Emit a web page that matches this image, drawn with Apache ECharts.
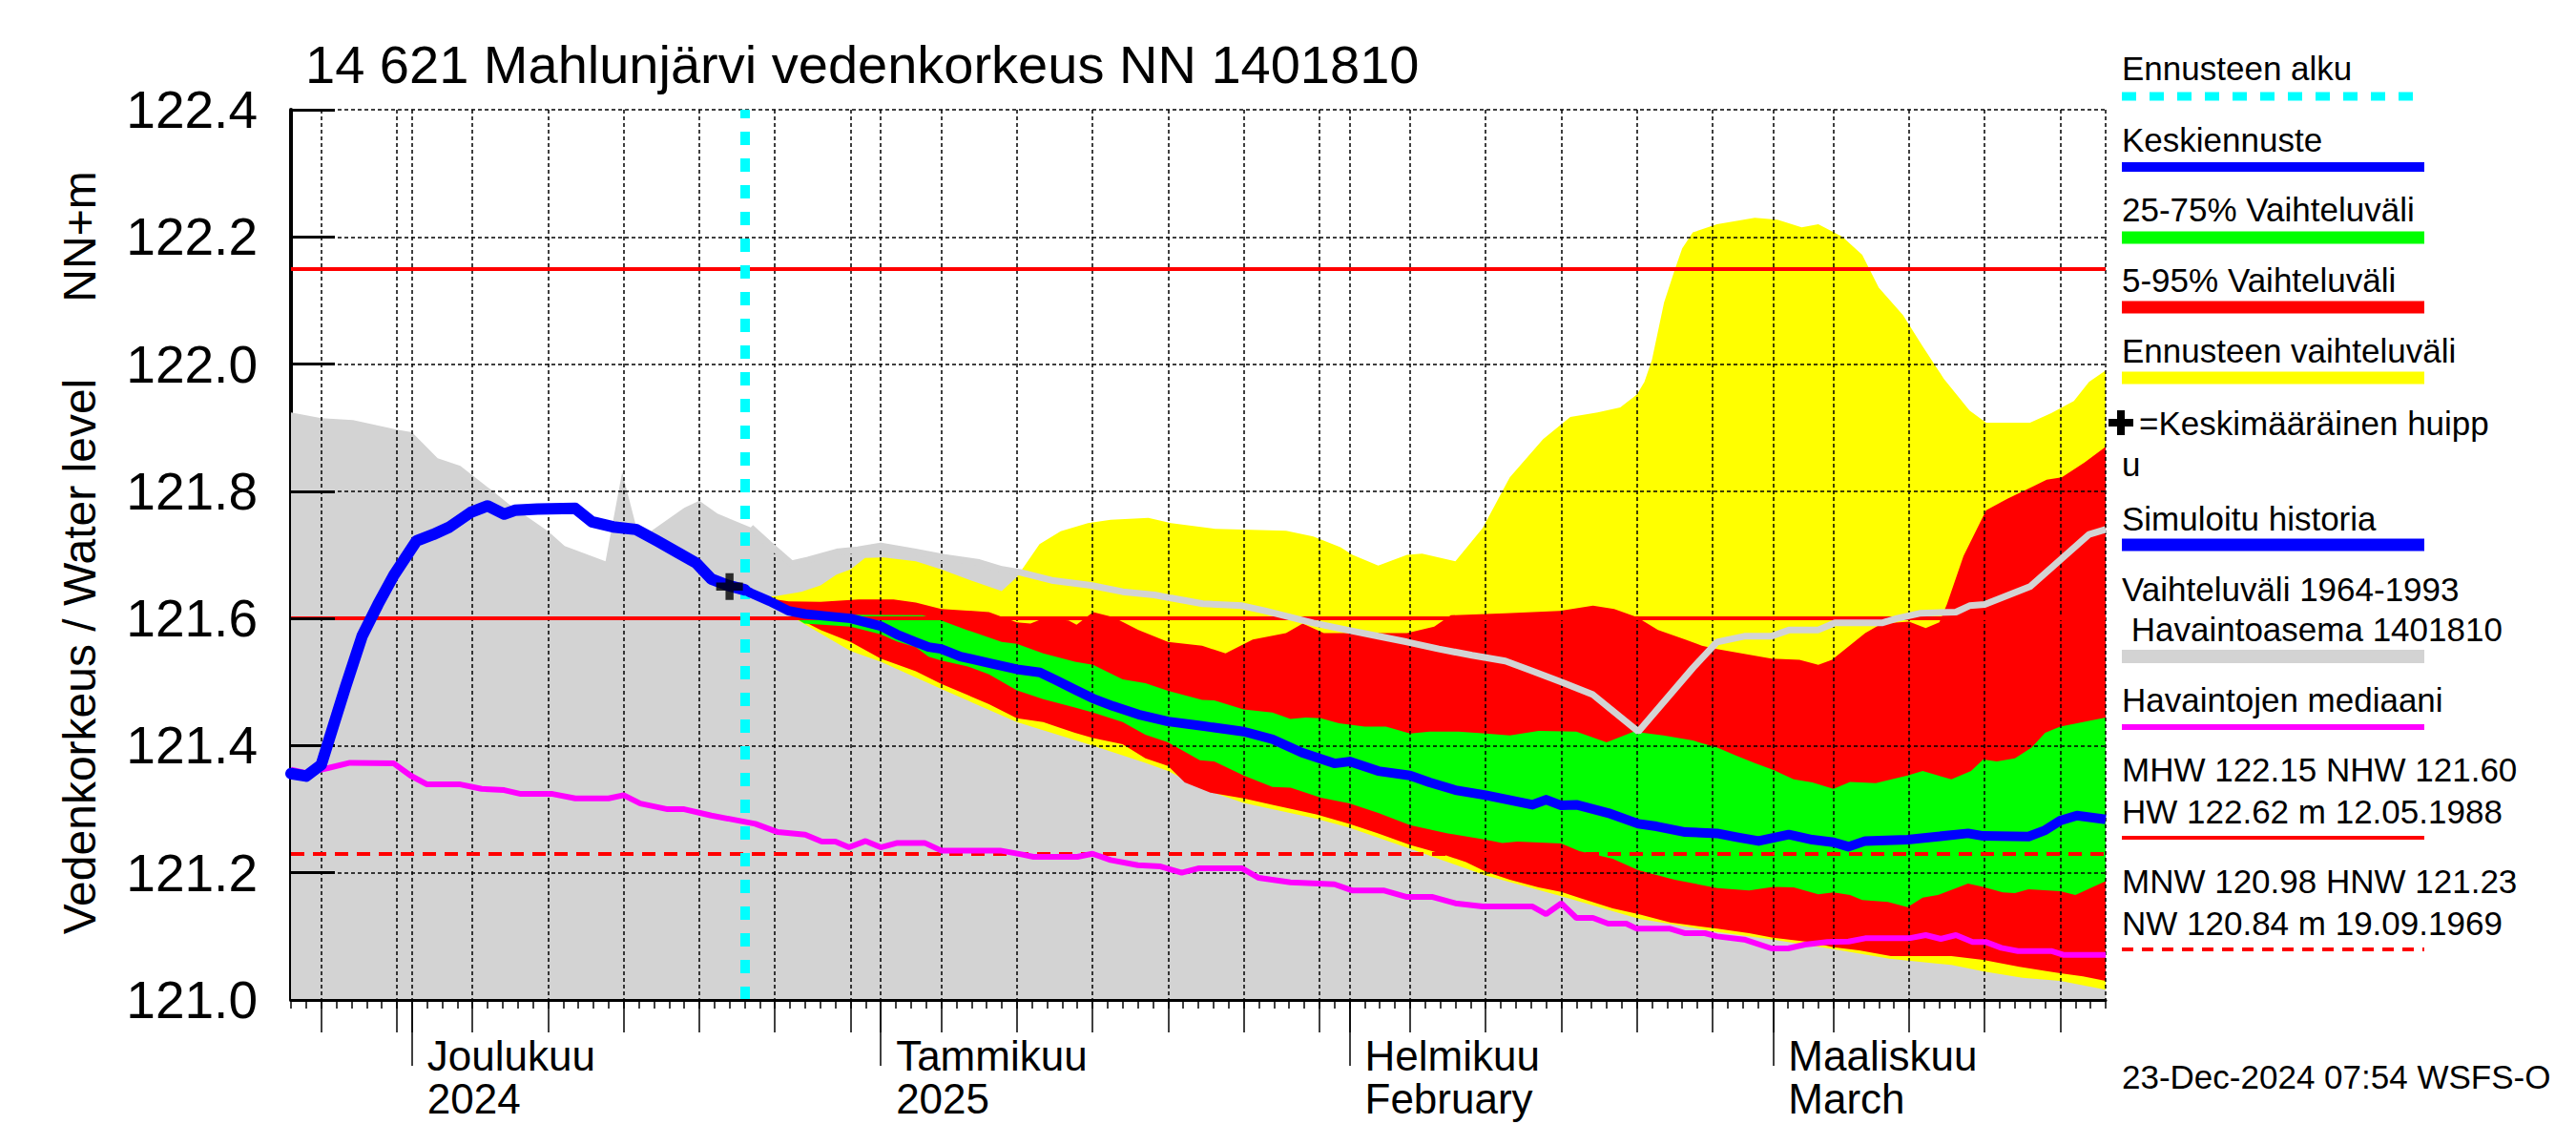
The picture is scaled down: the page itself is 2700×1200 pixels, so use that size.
<!DOCTYPE html>
<html><head><meta charset="utf-8">
<script src="https://cdn.jsdelivr.net/npm/echarts@6/dist/echarts.min.js"></script>
<style>html,body{margin:0;padding:0;background:#fff}#c{width:2700px;height:1200px}</style>
</head><body><div id="c"></div>
<script>
const FONT = '"Liberation Sans", Arial, Helvetica, sans-serif';

// ---- axis / category data ----
const startDate = Date.UTC(2024, 10, 23);   // 23 Nov 2024 = day 0
const nDays = 121;                          // to 23 Mar 2025
const dayCategories = [];
for (let i = 0; i < nDays; i++) dayCategories.push(new Date(startDate + i * 86400000).toISOString().slice(0, 10));
const monthLabels = {
  '2024-12-01': 'Joulukuu\n2024',
  '2025-01-01': 'Tammikuu\n2025',
  '2025-02-01': 'Helmikuu\nFebruary',
  '2025-03-01': 'Maaliskuu\nMarch'
};
const fiveDayMarks = [5, 10, 15, 20, 25, 30];
const yMin = 121.0, yMax = 122.4, yStep = 0.2;

// ---- reference levels ----
const MHW = 122.15, NHW = 121.60, HNW = 121.23;
const forecastStartDay = 30;        // 23 Dec 2024
const meanPeak = [[29, 121.65]];

// ---- series values: [day from 23 Nov 2024, water level] ----
const histMax = [[0,121.924],[2,121.915],[4.1,121.912],[7,121.897],[8,121.893],[9.7,121.852],[11.2,121.84],[13.35,121.80],[14.4,121.78],[17,121.737],[18.1,121.714],[20.8,121.69],[21.9,121.83],[22.8,121.747],[23.8,121.737],[26,121.774],[27,121.785],[28.2,121.765],[30.4,121.743],[31.6,121.717],[33.1,121.686],[34.2,121.692],[36.2,121.705],[37.5,121.708],[39,121.714],[41.2,121.705],[43.2,121.696],[45.5,121.688],[47,121.677],[48.3,121.672],[50.3,121.66],[52.9,121.652],[55,121.642],[57.1,121.637],[58.2,121.632],[60.3,121.623],[62.9,121.62],[64.4,121.612],[66.1,121.602],[67.6,121.593],[69.8,121.582],[71.9,121.572],[73.8,121.563],[75.9,121.552],[78.1,121.542],[80.3,121.533],[82,121.518],[84,121.5],[86.1,121.48],[89.1,121.422],[92.7,121.522],[94.3,121.563],[96.1,121.572],[97.9,121.572],[99.1,121.582],[101,121.582],[102.1,121.593],[105.2,121.593],[106.2,121.6],[107.7,121.608],[110.1,121.61],[111,121.62],[112,121.622],[115,121.65],[118.9,121.732],[120,121.74]];

const simHistory = [[0,121.356],[1,121.352],[2,121.37],[3.6,121.492],[4.7,121.572],[5.75,121.622],[6.8,121.668],[8.3,121.722],[9.4,121.732],[10.5,121.744],[11.9,121.767],[13,121.777],[14.1,121.764],[14.8,121.77],[16.3,121.772],[18.8,121.773],[19.9,121.752],[21.3,121.744],[22.8,121.74],[24.2,121.722],[25.7,121.702],[26.8,121.687],[27.8,121.662],[28.9,121.652],[30,121.645]];

const meanForecast = [[30,121.645],[30.4,121.64],[31.65,121.627],[32.9,121.612],[34,121.607],[35.65,121.603],[37,121.6],[39,121.588],[40.06,121.575],[41.3,121.563],[42.16,121.555],[43,121.552],[44.27,121.54],[46.16,121.53],[48,121.52],[49.53,121.515],[50.58,121.503],[51.84,121.488],[53.04,121.474],[54.37,121.462],[56.04,121.449],[58,121.438],[60.25,121.431],[63,121.422],[64.9,121.41],[66.85,121.389],[69,121.372],[70,121.375],[71.9,121.36],[74,121.353],[75.3,121.342],[77,121.33],[79,121.322],[82.1,121.307],[83,121.315],[84,121.306],[85,121.307],[87.1,121.294],[89.1,121.277],[90.3,121.273],[92.2,121.264],[94.3,121.262],[95.6,121.256],[97.05,121.25],[99.05,121.26],[100.6,121.252],[102,121.248],[103,121.241],[104.1,121.25],[106.9,121.252],[108.9,121.257],[110.9,121.262],[111.9,121.258],[114.9,121.257],[116,121.267],[117,121.282],[118.1,121.29],[120,121.284]];

const median = [[0,121.362],[1,121.357],[2.5,121.365],[3.9,121.373],[6.8,121.372],[7.9,121.353],[9,121.339],[11.2,121.339],[12.6,121.332],[14.1,121.33],[15.2,121.324],[17.3,121.324],[18.8,121.317],[21,121.317],[22,121.322],[23.1,121.309],[24.9,121.3],[26,121.3],[27.8,121.29],[30.7,121.277],[32.2,121.264],[34,121.26],[35.1,121.249],[36,121.249],[36.9,121.24],[38,121.25],[39,121.24],[40.1,121.247],[41.9,121.247],[43,121.235],[46.9,121.235],[48.3,121.229],[49.1,121.225],[52,121.225],[53,121.23],[54.2,121.22],[56,121.212],[57.5,121.21],[58.9,121.2],[60,121.207],[62.9,121.207],[64,121.192],[66.1,121.185],[69,121.182],[70.2,121.172],[72.3,121.172],[73.8,121.162],[75.5,121.162],[77,121.152],[78.8,121.147],[82.1,121.147],[83,121.135],[84,121.152],[85,121.129],[86.1,121.129],[87.1,121.12],[88.3,121.12],[89,121.112],[91.2,121.112],[92.2,121.105],[93.5,121.105],[94.3,121.1],[96.1,121.095],[97.9,121.081],[99,121.081],[100.1,121.087],[101.6,121.091],[103,121.092],[104.1,121.097],[107,121.097],[108.1,121.102],[109.1,121.096],[110.1,121.102],[111.2,121.091],[112.1,121.091],[113.1,121.082],[114.2,121.077],[116.4,121.077],[117.2,121.071],[120,121.071]];

// forecast ranges
const ensMax = [[31,121.634],[32.07,121.635],[33.75,121.642],[35.02,121.652],[36.07,121.669],[37,121.677],[37.96,121.695],[39.2,121.696],[41.32,121.69],[43,121.677],[44.69,121.662],[47,121.643],[48,121.665],[49.5,121.717],[50.9,121.737],[52.7,121.75],[54.2,121.755],[56.7,121.758],[58.2,121.75],[61.1,121.741],[65.8,121.738],[67.6,121.729],[69.4,121.712],[70.2,121.70],[71.9,121.683],[73.8,121.70],[74.8,121.702],[77,121.69],[78.8,121.742],[80.6,121.822],[82.8,121.882],[84.6,121.917],[86.4,121.924],[87.9,121.932],[89,121.952],[89.5,121.972],[90,122.007],[90.8,122.097],[91.5,122.148],[92,122.182],[92.7,122.207],[94.3,122.22],[96.8,122.23],[98.3,122.227],[99.9,122.215],[101,122.22],[102.6,122.2],[103.9,122.172],[105,122.12],[106.6,122.077],[107.9,122.028],[109.3,121.977],[111,121.927],[112.1,121.908],[115,121.908],[116.4,121.923],[117.9,121.942],[118.9,121.972],[120,121.99]];
const ensMin = [[31,121.634],[33.54,121.597],[37,121.549],[39,121.532],[43,121.489],[48,121.437],[53.04,121.40],[56.5,121.373],[58,121.36],[60.25,121.332],[63,121.31],[67.8,121.285],[70,121.271],[74,121.238],[79,121.196],[84,121.163],[89.1,121.128],[94.32,121.107],[98,121.095],[102,121.08],[105.7,121.065],[109.8,121.055],[111.9,121.045],[114.5,121.035],[117,121.03],[120,121.016]];
const p95 = [[31,121.634],[32.07,121.63],[32.91,121.627],[35.02,121.626],[37.54,121.63],[39.85,121.63],[41.32,121.625],[43,121.615],[46.16,121.61],[48,121.594],[48.9,121.592],[49.74,121.6],[51.42,121.597],[51.95,121.59],[53.04,121.61],[54.37,121.602],[56.04,121.582],[58,121.563],[60.25,121.557],[61.8,121.545],[63.6,121.567],[65.8,121.577],[66.9,121.592],[68.3,121.577],[73.8,121.577],[75.6,121.587],[76.7,121.605],[80.3,121.608],[83.9,121.612],[86.1,121.62],[87.5,121.615],[89,121.602],[90.4,121.582],[92.2,121.567],[93.3,121.557],[94.3,121.552],[97.9,121.537],[99.75,121.535],[101,121.527],[101.9,121.535],[104.1,121.577],[105.2,121.592],[107,121.595],[108.1,121.585],[109,121.594],[109.5,121.622],[110.6,121.698],[112.1,121.77],[113.5,121.788],[116.1,121.818],[117.1,121.822],[118.6,121.845],[120,121.87]];
const p5 = [[31,121.634],[33.54,121.60],[35.02,121.582],[37,121.563],[39,121.537],[41.32,121.517],[43,121.497],[44.69,121.48],[46.16,121.465],[48,121.443],[49.74,121.437],[51.84,121.42],[53.04,121.412],[55,121.402],[56.5,121.38],[58,121.368],[59.1,121.342],[60.8,121.326],[63,121.317],[64.9,121.307],[67.8,121.292],[70,121.277],[71.9,121.262],[74,121.244],[75.8,121.232],[77.7,121.217],[79,121.202],[80.6,121.189],[82.5,121.177],[84,121.17],[85.4,121.159],[87.4,121.144],[89.1,121.135],[91.2,121.122],[94.32,121.112],[96.42,121.105],[98,121.098],[100.4,121.091],[102,121.083],[103.7,121.078],[105.8,121.069],[109.8,121.069],[111.9,121.063],[114.3,121.052],[117,121.042],[118.5,121.037],[120,121.03]];
const p75 = [[31,121.634],[33.96,121.61],[37,121.606],[41.75,121.605],[43,121.597],[44.69,121.582],[47,121.563],[48,121.56],[49.74,121.545],[51.84,121.532],[53.04,121.527],[55,121.504],[56.5,121.498],[58,121.486],[60.25,121.472],[61.05,121.471],[63,121.457],[64.9,121.452],[66.1,121.442],[67.1,121.444],[68.1,121.443],[69.3,121.435],[71,121.43],[72.4,121.43],[74,121.419],[75.3,121.422],[77.2,121.422],[79,121.419],[80.6,121.416],[82.5,121.423],[85,121.422],[87,121.405],[88.8,121.422],[90.75,121.416],[92.7,121.408],[94.32,121.397],[95.58,121.384],[96.84,121.372],[98,121.362],[99.37,121.347],[100.6,121.342],[102,121.332],[103.1,121.343],[104.8,121.341],[106.9,121.353],[107.9,121.36],[109.8,121.347],[111.1,121.36],[111.9,121.378],[112.8,121.375],[114,121.38],[115.1,121.397],[116,121.42],[117,121.43],[118.5,121.437],[120,121.444]];
const p25 = [[31,121.634],[33.96,121.592],[37,121.587],[39,121.575],[40.06,121.564],[41.32,121.555],[42.16,121.54],[43,121.534],[44.69,121.525],[46.16,121.512],[48,121.487],[49.74,121.473],[51.84,121.46],[53.04,121.452],[55,121.437],[56.5,121.417],[58,121.405],[60.1,121.377],[61.05,121.375],[63,121.353],[64.9,121.335],[66.1,121.334],[68.1,121.318],[70,121.309],[71.9,121.294],[74,121.275],[76.5,121.262],[79,121.252],[80.1,121.247],[81.1,121.249],[84,121.246],[85.2,121.234],[87.4,121.222],[89.1,121.204],[91.5,121.189],[94.32,121.176],[96.42,121.172],[98,121.178],[99.37,121.177],[101,121.166],[102,121.169],[103.1,121.165],[103.9,121.157],[105.6,121.154],[106.9,121.146],[107.9,121.161],[108.9,121.165],[110.9,121.183],[111.9,121.178],[113.2,121.169],[114,121.168],[114.9,121.174],[117,121.171],[118,121.165],[120,121.187]];

// ---- helpers ----
function isMonth(v) { return v.slice(8) === '01'; }
function isFive(v) { return fiveDayMarks.indexOf(+v.slice(8)) >= 0; }
function band(name, upper, lower, color, z) {
  return {
    name: name, type: 'custom', xAxisIndex: 0, yAxisIndex: 0, z: z, silent: true,
    data: [[60, 121.5]],
    renderItem: function (params, api) {
      const pts = upper.map(p => api.coord(p)).concat(lower.slice().reverse().map(p => api.coord(p)));
      return { type: 'polygon', shape: { points: pts }, style: { fill: color } };
    }
  };
}

const chart = echarts.init(document.getElementById('c'), null, { renderer: 'svg' });

const LX1 = 2224, LX2 = 2541;
function ltext(t, y, x) {
  return { type: 'text', x: x == null ? LX1 : x, y: y, z: 100,
    style: { text: t, font: '35px ' + FONT, fill: '#000', align: 'left', verticalAlign: 'middle', textAlign: 'left', textVerticalAlign: 'middle' } };
}
function lline(y, color, w, dash) {
  return { type: 'line', z: 100, shape: { x1: LX1, y1: y, x2: LX2, y2: y },
    style: { stroke: color, lineWidth: w, lineDash: dash || null } };
}

const option = {
  animation: false,
  backgroundColor: '#fff',
  grid: { left: 305, top: 115, width: 1902, height: 933, containLabel: false },
  xAxis: [
    { type: 'value', min: 0, max: nDays - 1, show: false, position: 'bottom' },
    { type: 'category', data: dayCategories, boundaryGap: false, position: 'bottom', z: 5,
      axisLine: { show: true, onZero: false, lineStyle: { color: '#000', width: 3 } },
      axisTick: { show: true, interval: 0, length: 9, lineStyle: { color: '#000', width: 1.5 } },
      axisLabel: { show: false }, splitLine: { show: false } },
    { type: 'category', data: dayCategories, boundaryGap: false, position: 'bottom', z: 5,
      axisLine: { show: false, onZero: false },
      axisTick: { show: true, interval: (i, v) => isFive(v) || isMonth(v), length: 34, lineStyle: { color: '#000', width: 1.5 } },
      axisLabel: { show: false },
      splitLine: { show: true, interval: (i, v) => isFive(v) || isMonth(v) || i === nDays - 1,
        lineStyle: { color: '#000', width: 1.5, type: [4, 3] } } },
    { type: 'category', data: dayCategories, boundaryGap: false, position: 'bottom', z: 5,
      axisLine: { show: false, onZero: false },
      axisTick: { show: true, interval: (i, v) => isMonth(v), length: 69, lineStyle: { color: '#000', width: 1.5 } },
      axisLabel: { show: true, interval: (i, v) => isMonth(v), formatter: v => monthLabels[v] || '',
        align: 'left', verticalAlign: 'top', padding: [0, 0, 0, 16], margin: 36,
        fontSize: 44, lineHeight: 45, fontFamily: FONT, color: '#000' },
      splitLine: { show: false } }
  ],
  yAxis: [
    { type: 'value', min: yMin, max: yMax, interval: yStep, position: 'left', z: 0,
      axisLine: { show: true, onZero: false, lineStyle: { color: '#000', width: 4 } },
      axisTick: { show: false }, splitLine: { show: false },
      axisLabel: { show: true, margin: 35, fontSize: 55, fontFamily: FONT, color: '#000',
        formatter: v => v.toFixed(1), padding: [0, 0, 18, 0] } },
    { type: 'value', min: yMin, max: yMax, interval: yStep, position: 'left', z: 5,
      axisLine: { show: false, onZero: false },
      axisTick: { show: true, inside: true, length: 46, lineStyle: { color: '#000', width: 3 } },
      axisLabel: { show: false },
      splitLine: { show: true, lineStyle: { color: '#000', width: 1.5, type: [4, 3] } } }
  ],
  series: [
    { name: 'Vaihteluväli 1964-1993', type: 'line', xAxisIndex: 0, yAxisIndex: 0, data: histMax,
      symbol: 'none', showSymbol: false, silent: true, z: 1,
      lineStyle: { width: 0, color: '#d3d3d3' }, areaStyle: { color: '#d3d3d3', opacity: 1, origin: 'start' } },
    band('Ennusteen vaihteluväli', ensMax, ensMin, '#ffff00', 2),
    band('5-95% Vaihteluväli', p95, p5, '#ff0000', 3),
    band('25-75% Vaihteluväli', p75, p25, '#00ff00', 4),
    { name: 'levels', type: 'line', xAxisIndex: 0, yAxisIndex: 0, data: [], z: 6, silent: true,
      markLine: { silent: true, symbol: ['none', 'none'], label: { show: false }, animation: false,
        data: [
          { yAxis: MHW, lineStyle: { color: '#ff0000', width: 4, type: 'solid' } },
          { yAxis: NHW, lineStyle: { color: '#ff0000', width: 4, type: 'solid' } },
          { yAxis: HNW, lineStyle: { color: '#ff0000', width: 4, type: [14, 9] } }
        ] } },
    { name: 'histMaxLine', type: 'line', xAxisIndex: 0, yAxisIndex: 0, data: histMax.filter(p => p[0] >= 30),
      symbol: 'none', showSymbol: false, silent: true, z: 7, lineStyle: { width: 7, color: '#d3d3d3' } },
    { name: 'Havaintojen mediaani', type: 'line', xAxisIndex: 0, yAxisIndex: 0, data: median,
      symbol: 'none', showSymbol: false, silent: true, z: 8, lineStyle: { width: 6, color: '#ff00ff' } },
    { name: 'Simuloitu historia', type: 'line', xAxisIndex: 0, yAxisIndex: 0, data: simHistory,
      symbol: 'none', showSymbol: false, silent: true, z: 9, lineStyle: { width: 12, color: '#0000ff', cap: 'round', join: 'round' } },
    { name: 'Keskiennuste', type: 'line', xAxisIndex: 0, yAxisIndex: 0, data: meanForecast,
      symbol: 'none', showSymbol: false, silent: true, z: 9, lineStyle: { width: 10, color: '#0000ff', join: 'round' } },
    { name: 'Ennusteen alku', type: 'line', xAxisIndex: 0, yAxisIndex: 0, data: [], z: 10, silent: true,
      markLine: { silent: true, symbol: ['none', 'none'], label: { show: false }, animation: false,
        data: [{ xAxis: forecastStartDay, lineStyle: { color: '#00ffff', width: 10, type: [14, 14] } }] } },
    { name: 'Keskimääräinen huippu', type: 'scatter', xAxisIndex: 0, yAxisIndex: 0, data: meanPeak, z: 11, silent: true,
      symbol: 'path://M3.5,0H6.5V3.5H10V6.5H6.5V10H3.5V6.5H0V3.5H3.5Z', symbolSize: 28, itemStyle: { color: '#000' } }
  ],
  graphic: [
    { type: 'text', x: 320, y: 67, z: 100, style: { text: '14 621 Mahlunjärvi vedenkorkeus NN 1401810', font: '56px ' + FONT, fill: '#000', align: 'left', verticalAlign: 'middle', textAlign: 'left', textVerticalAlign: 'middle' } },
    { type: 'text', x: 83, y: 248, rotation: Math.PI / 2, z: 100, style: { text: 'NN+m', font: '48px ' + FONT, fill: '#000', align: 'center', verticalAlign: 'middle', textAlign: 'center', textVerticalAlign: 'middle' } },
    { type: 'text', x: 83, y: 688, rotation: Math.PI / 2, z: 100, style: { text: 'Vedenkorkeus / Water level', font: '48px ' + FONT, fill: '#000', align: 'center', verticalAlign: 'middle', textAlign: 'center', textVerticalAlign: 'middle' } },
    ltext('Ennusteen alku', 71), lline(101, '#00ffff', 9, [15, 14]),
    ltext('Keskiennuste', 146), lline(175, '#0000ff', 10),
    ltext('25-75% Vaihteluväli', 219), lline(249, '#00ff00', 13),
    ltext('5-95% Vaihteluväli', 293), lline(322, '#ff0000', 13),
    ltext('Ennusteen vaihteluväli', 367), lline(396, '#ffff00', 13),
    { type: 'rect', z: 100, shape: { x: 2210, y: 439, width: 26, height: 8 }, style: { fill: '#000' } },
    { type: 'rect', z: 100, shape: { x: 2219, y: 430, width: 8, height: 26 }, style: { fill: '#000' } },
    ltext('=Keskimääräinen huipp', 443, 2242),
    ltext('u', 486),
    ltext('Simuloitu historia', 543), lline(571, '#0000ff', 13),
    ltext('Vaihteluväli 1964-1993', 617),
    ltext(' Havaintoasema 1401810', 659), lline(688, '#d3d3d3', 14),
    ltext('Havaintojen mediaani', 733), lline(762, '#ff00ff', 6),
    ltext('MHW 122.15 NHW 121.60', 806),
    ltext('HW 122.62 m 12.05.1988', 850), lline(878, '#ff0000', 4),
    ltext('MNW 120.98 HNW 121.23', 923),
    ltext('NW 120.84 m 19.09.1969', 967), lline(995, '#ff0000', 4, [12, 9]),
    ltext('23-Dec-2024 07:54 WSFS-O', 1128)
  ]
};
chart.setOption(option);
</script>
</body></html>
